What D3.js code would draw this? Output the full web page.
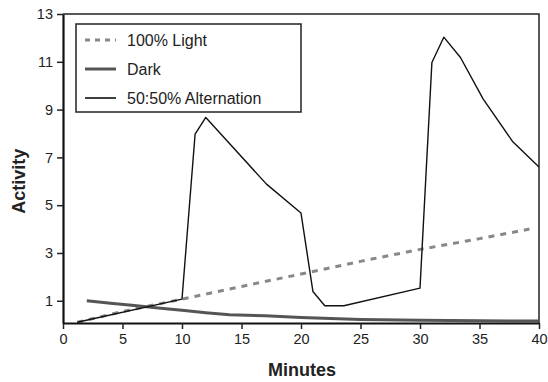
<!DOCTYPE html>
<html>
<head>
<meta charset="utf-8">
<script src="https://cdn.jsdelivr.net/npm/d3@7"></script>
<style>
  body { margin: 0; background: #fff; }
  text { font-family: "Liberation Sans", Arial, sans-serif; fill: #222; }
</style>
</head>
<body>
<script>
// data
let xTicks = [0, 5, 10, 15, 20, 25, 30, 35, 40]
let yTicks = [1, 3, 5, 7, 9, 11, 13]

let lightMin = [1.2, 5, 10, 15, 20, 25, 30, 35, 39.2]
let lightVal = [0.1, 0.55, 1.07, 1.6, 2.12, 2.65, 3.15, 3.6, 4.0]

let darkMin = [2, 4, 6, 8, 10, 12, 14, 17, 20, 25, 30, 35, 40]
let darkVal = [1.0, 0.9, 0.8, 0.7, 0.6, 0.5, 0.42, 0.37, 0.3, 0.22, 0.18, 0.16, 0.15]

let altMin = [1.2, 10, 11.1, 12, 17.1, 20, 21, 22, 23.6, 30, 31, 32, 33.4, 35.3, 37.8, 40]
let altVal = [0.1, 1.07, 7.97, 8.67, 5.88, 4.67, 1.39, 0.79, 0.79, 1.53, 10.97, 12.03, 11.18, 9.45, 7.65, 6.6]

let legendLabels = ["100% Light", "Dark", "50:50% Alternation"]

function plot() {
  let margin = {top: 14, right: 9, bottom: 59, left: 63}
  let width = 548 - margin.left - margin.right
  let height = 382 - margin.top - margin.bottom

  let x = d3.scaleLinear().domain([0, 40]).range([0, width])
  let y = d3.scaleLinear().domain([0.07, 13]).range([height, 0])

  let svg = d3.select("body").append("svg")
    .attr("width", 548)
    .attr("height", 382)
  let g = svg.append("g")
    .attr("transform", "translate(" + margin.left + "," + margin.top + ")")

  // frame top and right
  g.append("path")
    .attr("d", "M0,0H" + width + "V" + height)
    .attr("fill", "none")
    .attr("stroke", "#222")
    .attr("stroke-width", 1.5)

  let line = d3.line().x(d => x(d[0])).y(d => y(d[1]))
  let zip = (a, b) => a.map((v, i) => [v, b[i]])

  // 100% light
  g.append("path")
    .datum(zip(lightMin, lightVal))
    .attr("d", line)
    .attr("fill", "none")
    .attr("stroke", "#888")
    .attr("stroke-width", 3)
    .attr("stroke-dasharray", "6,6")

  // dark
  g.append("path")
    .datum(zip(darkMin, darkVal))
    .attr("d", line)
    .attr("fill", "none")
    .attr("stroke", "#555")
    .attr("stroke-width", 3)

  // alternation
  g.append("path")
    .datum(zip(altMin, altVal))
    .attr("d", line)
    .attr("fill", "none")
    .attr("stroke", "#111")
    .attr("stroke-width", 1.4)
    .attr("stroke-linejoin", "round")

  // axes
  let xAxis = g.append("g")
    .attr("transform", "translate(0," + height + ")")
    .call(d3.axisBottom(x).tickValues(xTicks).tickSize(6).tickSizeOuter(0).tickPadding(5))
  let yAxis = g.append("g")
    .call(d3.axisLeft(y).tickValues(yTicks).tickSize(6).tickSizeOuter(0).tickPadding(4))
  ;[xAxis, yAxis].forEach(a => {
    a.select(".domain").attr("stroke", "#111").attr("stroke-width", 2.2)
    a.selectAll(".tick line").attr("stroke", "#222").attr("stroke-width", 1.5)
    a.selectAll("text").style("font-size", "14.5px").attr("fill", "#222")
      .style("font-family", "'Liberation Sans', Arial, sans-serif")
  })

  // axis titles
  svg.append("text")
    .attr("x", margin.left + x(20) + 1)
    .attr("y", 376)
    .attr("text-anchor", "middle")
    .style("font-size", "18px")
    .style("font-weight", "bold")
    .text("Minutes")
  svg.append("text")
    .attr("transform", "translate(25," + (margin.top + y(6)) + ") rotate(-90)")
    .attr("text-anchor", "middle")
    .style("font-size", "18px")
    .style("font-weight", "bold")
    .text("Activity")

  // legend
  let lg = svg.append("g").attr("transform", "translate(76,24)")
  lg.append("rect")
    .attr("width", 225).attr("height", 88)
    .attr("fill", "#fff").attr("stroke", "#222").attr("stroke-width", 1.5)
  let styles = [
    {c: "#888", w: 3, d: "5,5"},
    {c: "#555", w: 3, d: null},
    {c: "#111", w: 1.6, d: null}
  ]
  legendLabels.forEach((t, i) => {
    let yy = 16 + i * 29
    lg.append("line")
      .attr("x1", 9).attr("x2", 40).attr("y1", yy).attr("y2", yy)
      .attr("stroke", styles[i].c).attr("stroke-width", styles[i].w)
      .attr("stroke-dasharray", styles[i].d)
    lg.append("text")
      .attr("x", 51).attr("y", yy + 6)
      .style("font-size", "16px")
      .text(t)
  })
}

plot()
</script>
</body>
</html>
